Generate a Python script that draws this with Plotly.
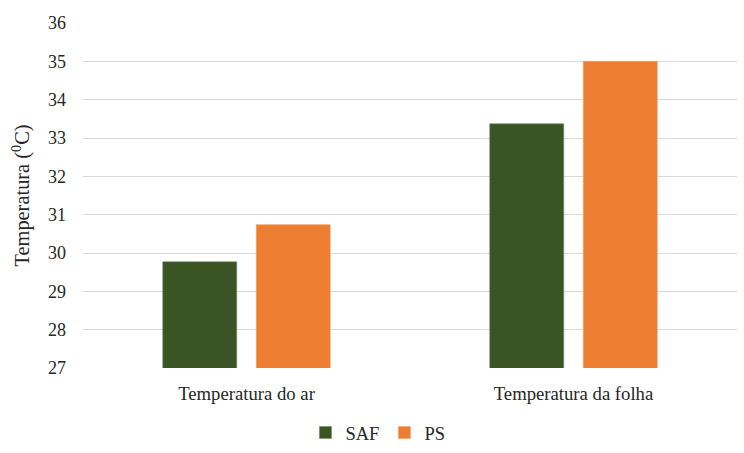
import plotly.graph_objects as go

categories = ["Temperatura do ar", "Temperatura da folha"]
saf_values = [29.77, 33.37]
ps_values = [30.74, 35.0]
y_ticks = [27, 28, 29, 30, 31, 32, 33, 34, 35, 36]

FONT = "Times New Roman, Liberation Serif, DejaVu Serif, serif"
TXT = "#262626"

fig = go.Figure()
fig.add_trace(go.Bar(name="SAF", x=categories, y=saf_values,
                     marker=dict(color="#3a5424", line=dict(color="#6f8a5e", width=0.6))))
fig.add_trace(go.Bar(name="PS", x=categories, y=ps_values,
                     marker=dict(color="#ed7d31", line=dict(color="#f2a06a", width=0.6))))

fig.update_layout(
    width=744, height=453,
    margin=dict(l=83, r=7, t=23, b=85, autoexpand=False),
    paper_bgcolor="white", plot_bgcolor="white",
    barmode="group", bargap=0.428, bargroupgap=0.209,
    font=dict(family=FONT, size=18, color=TXT),
    legend=dict(orientation="h", x=0.508, xanchor="center", xref="container",
                y=0.044, yanchor="middle", yref="container",
                font=dict(family=FONT, size=18.5, color=TXT),
                itemwidth=30, traceorder="normal"),
    xaxis=dict(showgrid=False, showline=False, ticks="", ticklabelstandoff=12,
               tickfont=dict(family=FONT, size=18.7, color=TXT)),
    yaxis=dict(range=[27, 36], tickvals=y_ticks, showgrid=True, gridcolor="#d9d9d9", gridwidth=1,
               zeroline=False, showline=False, ticks="",
               tickfont=dict(family=FONT, size=18, color=TXT), ticklabelstandoff=16,
               title=dict(text="Temperatura (<sup>0</sup>C)", font=dict(family=FONT, size=20.4, color=TXT), standoff=12)),
)

fig.write_html("out.html")
